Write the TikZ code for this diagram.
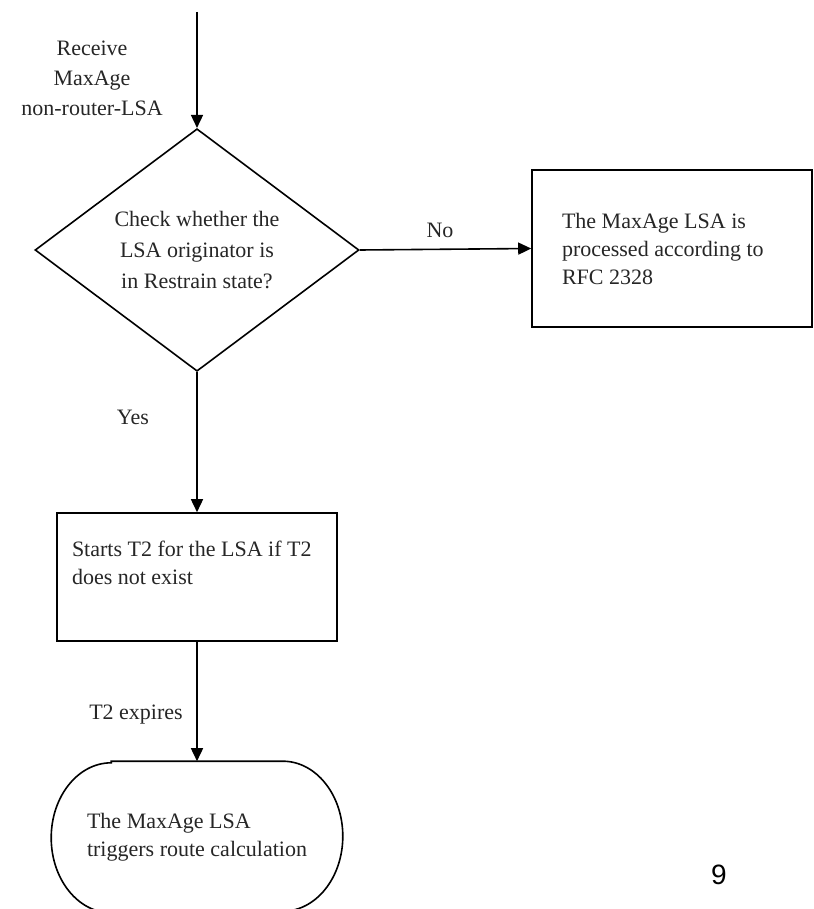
\documentclass[tikz,border=0pt]{standalone}
\usepackage{fontspec}
\setmainfont{Liberation Serif}
\newfontfamily\pagefont{Liberation Sans}
\usetikzlibrary{shapes.geometric,arrows.meta,positioning}

\begin{document}
\begin{tikzpicture}[x=1pt, y=-1pt, line width=1.6pt, >={Triangle[length=13pt,width=12pt]},
  lsa text/.style={font=\fontsize{22}{28}\selectfont, text=black!85},
  lsa check/.style={lsa text, draw, diamond, minimum width=324pt, minimum height=224pt, inner sep=0pt, align=center},
  lsa block/.style={lsa text, draw, rectangle, minimum width=280pt, text width=220pt, inner xsep=30pt, inner ysep=0pt, align=flush left},
  lsa end/.style={lsa text, minimum width=290pt, minimum height=150pt, inner sep=0pt, align=left}]
    \useasboundingbox (0,0) rectangle (813,909);

    % flow nodes
    \coordinate (in) at (197,12);
    \node[lsa check, font=\fontsize{22}{31}\selectfont] (check) at (197,250) {Check whether the\\ LSA originator is\\ in Restrain state?};
    \node[lsa block, minimum height=157pt] (rfc) at (672,248.5) {The MaxAge LSA is\\ processed according to\\ RFC 2328};
    \node[lsa block, minimum height=128pt, text width=250pt, inner xsep=15pt] (timer) at (197,577) {Starts T2 for the LSA if T2\\ does not exist\\ \mbox{}};
    \node[lsa end] (route) at (197,837) {The MaxAge LSA\\ triggers route calculation};
    \draw ([xshift=60pt]route.north west) -- ([xshift=-60pt]route.north east)
        arc[start angle=90, end angle=-90, x radius=60pt, y radius=75pt]
        -- ([xshift=60pt]route.south west)
        arc[start angle=270, end angle=90, x radius=60pt, y radius=75pt] -- cycle;

    % labels
    \node[lsa text, align=center, font=\fontsize{22}{30}\selectfont] (recv) at (92,78) {Receive\\ MaxAge\\ non-router-LSA};
    \node[lsa text] (no) at (440,230) {No};
    \node[lsa text] (yes) at (133,417) {Yes};
    \node[lsa text] (expire) at (136,715) {T2 expires};
    \node[font=\pagefont\fontsize{28}{30}\selectfont] (page) at (719,875) {9};

    % connectors
    \draw[->] (in) -- (check.north);
    \draw[->] (check.east) -- (rfc.west);
    \draw[->] (check.south) -- (timer.north);
    \draw[->] (timer.south) -- (route.north);
\end{tikzpicture}
\end{document}
